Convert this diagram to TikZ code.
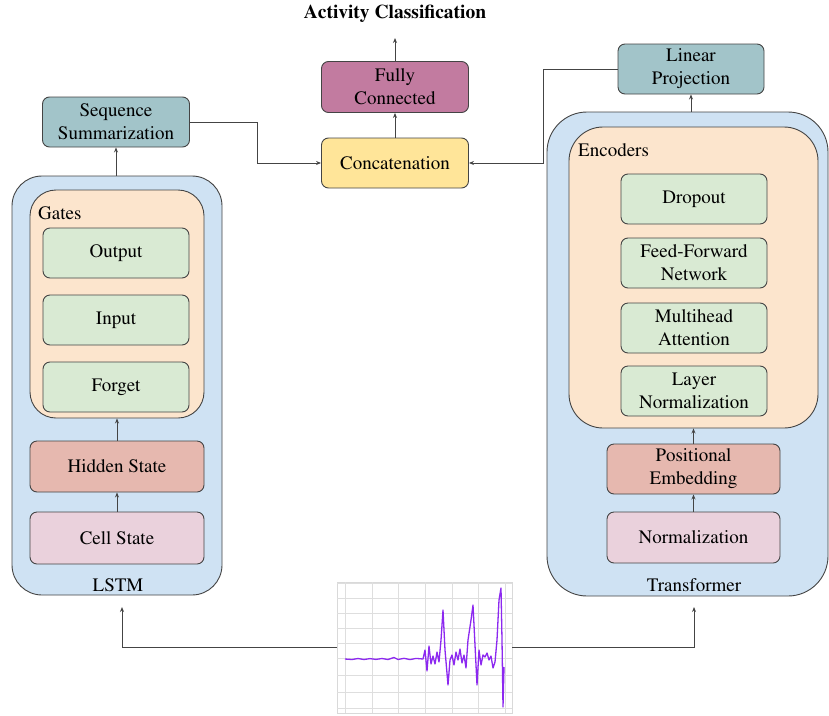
\documentclass[tikz,border=0pt]{standalone}
\usepackage[T1]{fontenc}
\renewcommand{\rmdefault}{ptm}
\usetikzlibrary{arrows.meta}
\definecolor{cfc}{HTML}{C27BA0}
\definecolor{ccat}{HTML}{FFE599}
\definecolor{cteal}{HTML}{A2C4C9}
\definecolor{cblue}{HTML}{CFE2F3}
\definecolor{corange}{HTML}{FCE5CD}
\definecolor{cgreen}{HTML}{D9EAD3}
\definecolor{cred}{HTML}{E6B8AF}
\definecolor{cpink}{HTML}{EAD1DC}
\definecolor{cline}{HTML}{444444}
\definecolor{csig}{RGB}{140,40,240}
\tikzset{
  box/.style={draw=cline, line width=0.9pt, rounded corners=7pt, align=center, inner sep=0pt,
    font=\fontsize{19}{23}\selectfont},
  bigbox/.style={draw=cline, line width=0.9pt, inner sep=0pt},
  lbl/.style={inner sep=0pt, font=\fontsize{19}{22}\selectfont},
  arr/.style={draw=cline, line width=0.9pt, -{Stealth[length=5pt,width=4pt]}},
}
\begin{document}
\begin{tikzpicture}[x=1pt,y=-1pt]
\useasboundingbox (0,0) rectangle (829,715);
% outer containers
\node[bigbox, fill=cblue, rounded corners=30pt, minimum width=210pt, minimum height=419pt] (lstm) at (117,385.5) {};
\node[bigbox, fill=corange, rounded corners=26pt, minimum width=174pt, minimum height=228pt] (gates) at (117,304) {};
\node[bigbox, fill=cblue, rounded corners=40pt, minimum width=281pt, minimum height=484pt] (trans) at (687.5,354) {};
\node[bigbox, fill=corange, rounded corners=34pt, minimum width=249pt, minimum height=301pt] (enc) at (693.5,277.5) {};
% labels
\node[lbl, font=\fontsize{19.5}{22}\selectfont\bfseries] (title) at (395,14) {Activity Classification};
\node[lbl, anchor=west] (gl) at (38,213) {Gates};
\node[lbl, anchor=west] (el) at (578,150) {Encoders};
\node[lbl] (ll) at (118,585) {LSTM};
\node[lbl] (tl) at (694,585) {Transformer};
% boxes
\node[box, fill=cfc, minimum width=147pt, minimum height=51pt] (fc) at (395,87) {Fully\\Connected};
\node[box, fill=ccat, minimum width=147pt, minimum height=50pt] (cat) at (395,163) {Concatenation};
\node[box, fill=cteal, minimum width=147pt, minimum height=50pt] (seq) at (116,122) {Sequence\\Summarization};
\node[box, fill=cteal, minimum width=146pt, minimum height=50pt] (lin) at (691,69) {Linear\\Projection};
\node[box, fill=cgreen, minimum width=146pt, minimum height=50pt] (out) at (116,253) {Output};
\node[box, fill=cgreen, minimum width=146pt, minimum height=50pt] (inp) at (116,320) {Input};
\node[box, fill=cgreen, minimum width=146pt, minimum height=50pt] (fgt) at (116,387) {Forget};
\node[box, fill=cred, minimum width=174pt, minimum height=51pt] (hid) at (117,466.5) {Hidden State};
\node[box, fill=cpink, minimum width=174pt, minimum height=52pt] (cell) at (117,538) {Cell State};
\node[box, fill=cgreen, minimum width=146pt, minimum height=50pt] (drop) at (694,199) {Dropout};
\node[box, fill=cgreen, minimum width=146pt, minimum height=50pt] (ffn) at (694,263) {Feed-Forward\\Network};
\node[box, fill=cgreen, minimum width=146pt, minimum height=50pt] (mha) at (694,328) {Multihead\\Attention};
\node[box, fill=cgreen, minimum width=146pt, minimum height=50pt] (lnorm) at (694,391) {Layer\\Normalization};
\node[box, fill=cred, minimum width=173pt, minimum height=50pt] (pos) at (693.5,469) {Positional\\Embedding};
\node[box, fill=cpink, minimum width=173pt, minimum height=51pt] (norm) at (693.5,537.5) {Normalization};
% signal image
\node[draw=black!15, fill=white, line width=0.6pt, minimum width=175pt, minimum height=131pt, inner sep=0pt] (sig) at (424.5,647.5) {};
\begin{scope}
\clip (337,582) rectangle (512,713);
\foreach \x in {345,372,398,425,452,478,505} \draw[black!13, line width=0.7pt] (\x,582) -- (\x,713);
\foreach \y in {583,598,613,628,643,658,675,692,708} \draw[black!13, line width=0.7pt] (337,\y) -- (512,\y);
\end{scope}
\draw[csig, line width=1.3pt, line join=round]
 (345,659) -- (352,659.5) -- (358,658.5) -- (364,659.5) -- (370,658.6) -- (376,659.4) -- (382,658.5)
 -- (388,659.5) -- (394,657.5) -- (398,659.5) -- (404,658.3) -- (410,659.6) -- (416,658.4) -- (423,659)
 -- (425,650) -- (427,671) -- (429,646) -- (431,664) -- (433,656) -- (435,664) -- (437,652) -- (439,662)
 -- (441,640) -- (443,610) -- (445,650) -- (448,685) -- (450,660) -- (452,655) -- (454,665) -- (456,652)
 -- (458,660) -- (460,649) -- (462,663) -- (464,655) -- (466,668) -- (468,640) -- (471,620) -- (473,605)
 -- (475,645) -- (477,685) -- (479,650) -- (481,665) -- (483,655) -- (485,657) -- (487,653) -- (489,660)
 -- (491,656) -- (493,668) -- (495,662) -- (497,640) -- (499,600) -- (501,588) -- (502,640) -- (503,707)
 -- (504,667);
% connectors
\coordinate (top) at (395,38);
\coordinate (ltip) at (122,607);
\coordinate (rtip) at (694,607);
\coordinate (s1) at (257,122);
\coordinate (l1) at (543,69);
\draw[arr] (fc.north) -- (top);
\draw[arr] (cat.north) -- (fc.south);
\draw[arr] (seq.east) -- (s1) |- (cat.west);
\draw[arr] (lin.west) -- (l1) |- (cat.east);
\draw[arr] (lstm.north -| seq.south) -- (seq.south);
\draw[arr] (cell.north) -- (hid.south);
\draw[arr] (hid.north) -- (gates.south);
\draw[arr] (trans.north -| lin.south) -- (lin.south);
\draw[arr] (norm.north) -- (pos.south);
\draw[arr] (pos.north) -- (enc.south -| pos.north);
\draw[arr] (sig.west) -| (ltip);
\draw[arr] (sig.east) -| (rtip);
\end{tikzpicture}
\end{document}
